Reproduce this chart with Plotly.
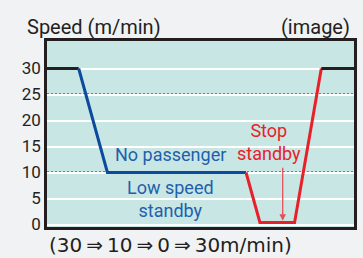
import plotly.graph_objects as go

# Data (x = elapsed time, arbitrary units; y = speed m/min)
time_black_start = [0, 32]
speed_black_start = [30, 30]
time_blue = [32, 61, 201]
speed_blue = [30, 10, 10]
time_red = [201, 215, 250, 277]
speed_red = [10, 0.4, 0.4, 30]
time_black_end = [277, 310]
speed_black_end = [30, 30]
y_ticks = [0, 5, 10, 15, 20, 25, 30]

FONT = "Roboto, sans-serif"
DARK = "#231f20"
BLUE_LINE = "#0b4a9e"
BLUE_TEXT = "#1f5fae"
RED = "#e8202a"

fig = go.Figure()
fig.add_trace(go.Scatter(x=time_black_start, y=speed_black_start, mode="lines",
                         line=dict(color=DARK, width=3), hoverinfo="skip"))
fig.add_trace(go.Scatter(x=time_blue, y=speed_blue, mode="lines",
                         line=dict(color=BLUE_LINE, width=3), hoverinfo="skip"))
fig.add_trace(go.Scatter(x=time_red, y=speed_red, mode="lines",
                         line=dict(color=RED, width=3), hoverinfo="skip"))
fig.add_trace(go.Scatter(x=time_black_end, y=speed_black_end, mode="lines",
                         line=dict(color=DARK, width=3), hoverinfo="skip"))

# dotted reference lines at 25 and 10
for yv in (25, 10):
    fig.add_shape(type="line", xref="paper", x0=0, x1=1, yref="y", y0=yv, y1=yv,
                  line=dict(color=DARK, width=2, dash="2px,2px"), layer="below")

bottom_text = "(30\u2009⇒\u200910\u2009⇒\u20090\u2009⇒\u200930m/min)"

ann = []
ann.append(dict(x=125, y=13.4, xref="x", yref="y", text="No passenger", showarrow=False,
                font=dict(family=FONT, size=18, color=BLUE_TEXT), xanchor="center", yanchor="middle"))
ann.append(dict(x=125, y=5.0, xref="x", yref="y", text="Low speed<br>standby", showarrow=False,
                font=dict(family=FONT, size=18, color=BLUE_TEXT), xanchor="center", yanchor="middle"))
ann.append(dict(x=224, y=15.9, xref="x", yref="y", text="Stop<br>standby", showarrow=False,
                font=dict(family=FONT, size=18, color=RED), xanchor="center", yanchor="middle"))
ann.append(dict(x=238, y=0.7, ax=238, ay=11.2, xref="x", yref="y", axref="x", ayref="y",
                text="", showarrow=True, arrowhead=2, arrowsize=1, arrowwidth=1.3,
                arrowcolor="#e8505a"))
ann.append(dict(x=-0.071, y=1.075, xref="paper", yref="paper", text="Speed (m/min)", showarrow=False,
                font=dict(family=FONT, size=20, color=DARK), xanchor="left", yanchor="middle"))
ann.append(dict(x=0.994, y=1.075, xref="paper", yref="paper", text="(image)", showarrow=False,
                font=dict(family=FONT, size=20, color=DARK), xanchor="right", yanchor="middle"))
ann.append(dict(x=0.0, y=-0.096, xref="paper", yref="paper", text=bottom_text, showarrow=False,
                font=dict(family="DejaVu Sans, sans-serif", size=20, color=DARK),
                xanchor="left", yanchor="middle"))

fig.update_layout(
    width=363, height=258,
    margin=dict(l=47, r=6, t=41, b=31),
    paper_bgcolor="#f0f2f4",
    plot_bgcolor="#c8e6e3",
    showlegend=False,
    annotations=ann,
    xaxis=dict(range=[0, 310], showgrid=False, zeroline=False, showticklabels=False,
               ticks="", showline=True, linecolor=DARK, linewidth=2.5, mirror=True, fixedrange=True),
    yaxis=dict(range=[-0.48, 35.29], tickvals=y_ticks, ticktext=[str(v) for v in y_ticks],
               showgrid=True, gridcolor="#ffffff", gridwidth=2, zeroline=False,
               ticks="", showline=True, linecolor=DARK, linewidth=2.5, mirror=True,
               tickfont=dict(family=FONT, size=17, color=DARK), fixedrange=True),
)

fig.write_html("out.html", config={"displayModeBar": False},
               post_script="document.body.style.margin='0';document.body.style.overflow='hidden';")
